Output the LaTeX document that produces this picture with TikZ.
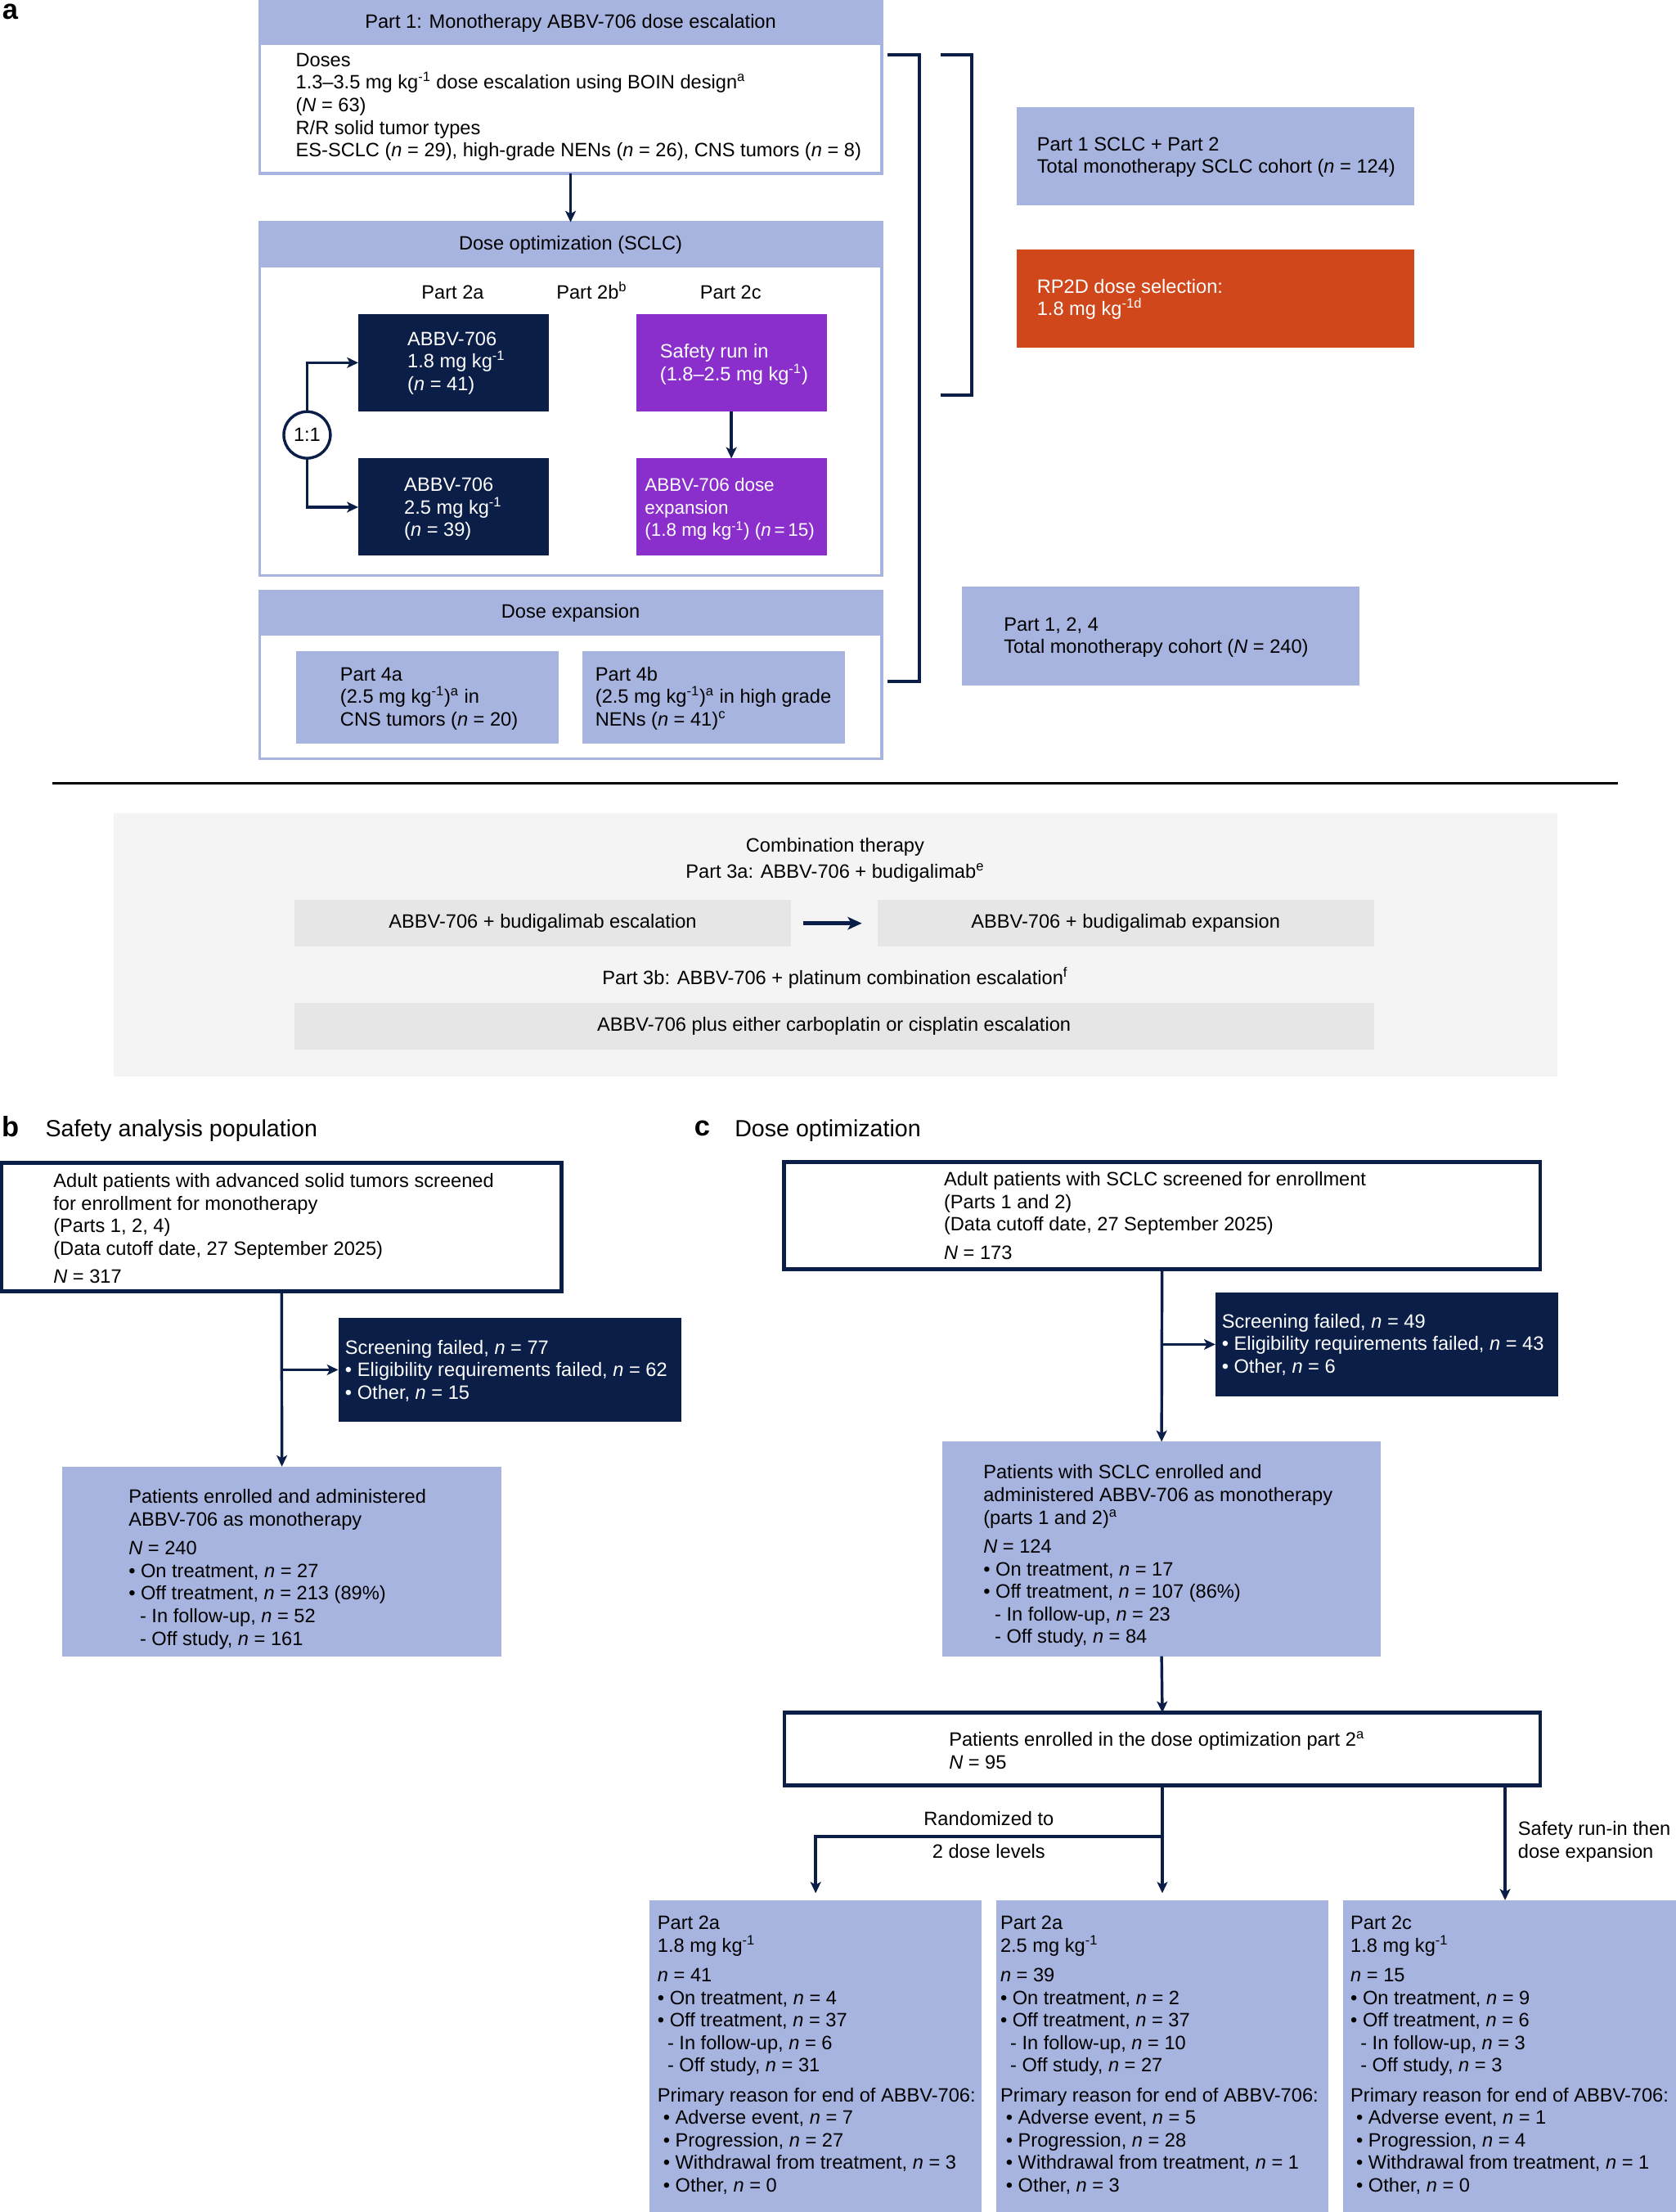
\documentclass[tikz,border=0pt]{standalone}
\usepackage{fontspec}
\setmainfont{Liberation Sans}
\usetikzlibrary{arrows.meta}
\definecolor{lb}{RGB}{166,180,223}
\definecolor{navy}{RGB}{10,30,72}
\definecolor{purp}{RGB}{138,46,204}
\definecolor{orng}{RGB}{207,71,27}
\definecolor{bgg}{RGB}{244,244,244}
\definecolor{boxg}{RGB}{230,230,230}
\newcommand{\myfs}{\fontsize{13.7}{16}\selectfont}
\newcommand{\mytp}{\rule{0pt}{13pt}}
\newcommand{\kgi}{kg\textsuperscript{-1}}
\newcommand{\vn}{\textit{n}}
\newcommand{\vN}{\textit{N}}
\newcommand{\myind}{\hspace*{8pt}}
\newcommand{\mydi}{\hspace*{7pt}}
\newcommand{\mybi}{\hspace*{4pt}}
\begin{document}
\begin{tikzpicture}[x=1pt, y=-1pt,
 txt/.style={inner sep=0pt, font=\myfs, align=left, anchor=north west},
 wtxt/.style={txt, text=white},
 ctxt/.style={txt, align=center, anchor=north},
 bx/.style={rectangle, inner sep=0pt, outer sep=0pt, anchor=north west},
 hdr/.style={bx, fill=lb, font=\myfs},
 conn/.style={draw=navy, line width=2pt},
 arr/.style={conn, -{Stealth[length=8pt,width=7.5pt,inset=2pt]}},
 lbl/.style={inner sep=0pt, anchor=base west, font=\fontsize{20}{20}\selectfont\bfseries},
 ttl/.style={inner sep=0pt, anchor=base west, font=\fontsize{16.6}{18}\selectfont}]
\path[use as bounding box] (0,0) rectangle (1188,1568);

% ---------------- panel a ----------------
\node[lbl] (la) at (1.5,13.8) {a};

\node[bx, draw=lb, line width=2pt, fill=white, minimum width=441pt, minimum height=122pt] (p1) at (184,1) {};
\node[hdr, minimum width=441pt, minimum height=31pt] (p1h) at (184,1) {Part 1: Monotherapy ABBV-706 dose escalation};
\node[txt] (p1t) at (209.5,34) {\mytp Doses\\1.3–3.5 mg \kgi{} dose escalation using BOIN design\textsuperscript{a}\\(\vN{} = 63)\\R/R solid tumor types\\ES-SCLC (\vn{} = 29), high-grade NENs (\vn{} = 26), CNS tumors (\vn{} = 8)};

\node[bx, draw=lb, line width=2pt, fill=white, minimum width=441pt, minimum height=250.5pt] (p2) at (184,157.5) {};
\node[hdr, minimum width=441pt, minimum height=32pt] (p2h) at (184,157.5) {Dose optimization (SCLC)};
\draw[arr] (p1.south) -- (p2h.north);

\node[ctxt] (l2a) at (321,199) {\mytp Part 2a};
\node[ctxt] (l2b) at (419.5,199) {\mytp Part 2b\textsuperscript{b}};
\node[ctxt] (l2c) at (518,199) {\mytp Part 2c};

\node[bx, fill=navy, minimum width=135pt, minimum height=69pt] (n1) at (254,222.6) {};
\node[wtxt] (n1t) at (288.7,231.7) {\mytp ABBV-706\\1.8 mg \kgi\\(\vn{} = 41)};
\node[bx, fill=navy, minimum width=135pt, minimum height=69pt] (n2) at (254,325) {};
\node[wtxt] (n2t) at (286.4,335.1) {\mytp ABBV-706\\2.5 mg \kgi\\(\vn{} = 39)};
\node[bx, fill=purp, minimum width=135pt, minimum height=69pt] (pu1) at (451,222.6) {};
\node[wtxt] (pu1t) at (467.7,240.5) {\mytp Safety run in\\(1.8–2.5 mg \kgi)};
\node[bx, fill=purp, minimum width=135pt, minimum height=69pt] (pu2) at (451,325) {};
\node[wtxt, font=\fontsize{13}{16}\selectfont] (pu2t) at (457,335.1) {\mytp ABBV-706 dose\\expansion\\(1.8 mg \kgi) (\vn{}\,=\,15)};
\draw[arr] (pu1.south) -- (pu2.north);

\node[circle, draw=navy, line width=2pt, fill=white, minimum size=33pt, inner sep=0pt, outer sep=0pt, font=\myfs] (c11) at (217.7,308.3) {1:1};
\draw[arr] (c11.north) |- (n1.west);
\draw[arr] (c11.south) |- (n2.west);

\node[bx, draw=lb, line width=2pt, fill=white, minimum width=441pt, minimum height=118.7pt] (p4) at (184,419) {};
\node[hdr, minimum width=441pt, minimum height=31.6pt] (p4h) at (184,419) {Dose expansion};
\node[bx, fill=lb, minimum width=186pt, minimum height=65.7pt] (q1) at (210,461.3) {};
\node[txt] (q1t) at (241,469.3) {\mytp Part 4a\\(2.5 mg \kgi)\textsuperscript{a} in\\CNS tumors (\vn{} = 20)};
\node[bx, fill=lb, minimum width=186pt, minimum height=65.7pt] (q2) at (413,461.3) {};
\node[txt] (q2t) at (421.9,469.3) {\mytp Part 4b\\(2.5 mg \kgi)\textsuperscript{a} in high grade\\NENs (\vn{} = 41)\textsuperscript{c}};

% brackets
\draw[navy, line width=2.2pt] (629,39) -- (652,39) -- (652,483) -- (629,483);
\draw[navy, line width=2.2pt] (667,39) -- (689,39) -- (689,280) -- (667,280);

\node[bx, fill=lb, minimum width=281.8pt, minimum height=69.6pt] (r1) at (720.7,76) {};
\node[txt] (r1t) at (735,93.5) {\mytp Part 1 SCLC + Part 2\\Total monotherapy SCLC cohort (\vn{} = 124)};
\node[bx, fill=orng, minimum width=281.8pt, minimum height=69.7pt] (r2) at (720.7,176.7) {};
\node[wtxt] (r2t) at (735,194.5) {\mytp RP2D dose selection:\\1.8 mg kg\textsuperscript{-1d}};
\node[bx, fill=lb, minimum width=281.7pt, minimum height=70pt] (r3) at (682,416) {};
\node[txt] (r3t) at (711.5,433.9) {\mytp Part 1, 2, 4\\Total monotherapy cohort (\vN{} = 240)};

% separator
\draw[black, line width=1.8pt] (37,555) -- (1147,555);

% combination therapy
\node[bx, fill=bgg, minimum width=1023.4pt, minimum height=187.1pt] (cbg) at (80.6,576.3) {};
\node[ctxt] (ct1) at (592,590.5) {\mytp Combination therapy};
\node[ctxt] (ct2) at (592,609.5) {\mytp Part 3a: ABBV-706 + budigalimab\textsuperscript{e}};
\node[bx, fill=boxg, minimum width=352.5pt, minimum height=33pt, font=\myfs] (c1) at (208.5,638) {ABBV-706 + budigalimab escalation};
\node[bx, fill=boxg, minimum width=352pt, minimum height=33pt, font=\myfs] (c2) at (622,638) {ABBV-706 + budigalimab expansion};
\draw[draw=navy, line width=2.6pt, -{Stealth[length=10pt,width=9pt,inset=2.5pt]}, shorten <=8.4pt, shorten >=11pt] (c1.east) -- (c2.west);
\node[ctxt] (ct3) at (592,684.5) {\mytp Part 3b: ABBV-706 + platinum combination escalation\textsuperscript{f}};
\node[bx, fill=boxg, minimum width=765.5pt, minimum height=32.7pt, font=\myfs] (c3) at (208.5,711) {ABBV-706 plus either carboplatin or cisplatin escalation};

% ---------------- panel b ----------------
\node[lbl] (lbB) at (1,806) {b};
\node[ttl] (tb) at (32,806) {Safety analysis population};
\node[bx, draw=navy, line width=2.6pt, fill=white, minimum width=396.7pt, minimum height=91pt] (bb1) at (1.3,824.3) {};
\node[txt] (bb1t) at (37.7,828.5) {\mytp Adult patients with advanced solid tumors screened\\for enrollment for monotherapy\\(Parts 1, 2, 4)\\(Data cutoff date, 27 September 2025)\\[4pt]\vN{} = 317};
\node[bx, fill=navy, minimum width=243.2pt, minimum height=74pt] (bs) at (239.8,934) {};
\node[wtxt] (bst) at (244.5,946.5) {\mytp Screening failed, \vn{} = 77\\• Eligibility requirements failed, \vn{} = 62\\• Other, \vn{} = 15};
\node[bx, fill=lb, minimum width=311.7pt, minimum height=134.4pt] (bb2) at (44,1039.6) {};
\node[txt] (bb2t) at (91,1052.5) {\mytp Patients enrolled and administered\\ABBV-706 as monotherapy\\[4.5pt]\vN{} = 240\\• On treatment, \vn{} = 27\\• Off treatment, \vn{} = 213 (89\%)\\\myind- In follow-up, \vn{} = 52\\\myind- Off study, \vn{} = 161};
\draw[arr] (bb1.south) -- (bb2.north);
\draw[arr] (bb1.south |- bs.west) -- (bs.west);

% ---------------- panel c ----------------
\node[lbl] (lcC) at (492,805) {c};
\node[ttl] (tc) at (520.7,806) {Dose optimization};
\node[bx, draw=navy, line width=2.6pt, fill=white, minimum width=536pt, minimum height=76pt] (cc1) at (555.8,823.8) {};
\node[txt] (cc1t) at (669,827.5) {\mytp Adult patients with SCLC screened for enrollment\\(Parts 1 and 2)\\(Data cutoff date, 27 September 2025)\\[4pt]\vN{} = 173};
\node[bx, fill=navy, minimum width=243pt, minimum height=74pt] (cs) at (861.6,916) {};
\node[wtxt] (cst) at (866,928.1) {\mytp Screening failed, \vn{} = 49\\• Eligibility requirements failed, \vn{} = 43\\• Other, \vn{} = 6};
\node[bx, fill=lb, minimum width=311pt, minimum height=152pt] (cc2) at (668,1022) {};
\node[txt] (cc2t) at (697,1035.2) {\mytp Patients with SCLC enrolled and\\administered ABBV-706 as monotherapy\\(parts 1 and 2)\textsuperscript{a}\\[4.5pt]\vN{} = 124\\• On treatment, \vn{} = 17\\• Off treatment, \vn{} = 107 (86\%)\\\myind- In follow-up, \vn{} = 23\\\myind- Off study, \vn{} = 84};
\node[bx, draw=navy, line width=2.6pt, fill=white, minimum width=536pt, minimum height=51.5pt] (cc3) at (556,1214) {};
\node[txt] (cc3t) at (672.6,1224.5) {\mytp Patients enrolled in the dose optimization part 2\textsuperscript{a}\\\vN{} = 95};
\draw[arr] (cc1.south) -- (cc2.north);
\draw[arr] (cc1.south |- cs.west) -- (cs.west);
\draw[arr] (cc2.south) -- (cc3.north);

\node[bx, fill=lb, minimum width=235.5pt, minimum height=222pt] (d1) at (460.5,1347) {};
\node[bx, fill=lb, minimum width=236pt, minimum height=222pt] (d2) at (706,1347) {};
\node[bx, fill=lb, minimum width=236pt, minimum height=222pt] (d3) at (952,1347) {};

\node[txt] (d1t) at (466,1354.5) {\mytp Part 2a\\1.8 mg \kgi\\[5pt]\vn{} = 41\\• On treatment, \vn{} = 4\\• Off treatment, \vn{} = 37\\\mydi- In follow-up, \vn{} = 6\\\mydi- Off study, \vn{} = 31\\[5pt]Primary reason for end of ABBV-706:\\\mybi• Adverse event, \vn{} = 7\\\mybi• Progression, \vn{} = 27\\\mybi• Withdrawal from treatment, \vn{} = 3\\\mybi• Other, \vn{} = 0};
\node[txt] (d2t) at (709,1354.5) {\mytp Part 2a\\2.5 mg \kgi\\[5pt]\vn{} = 39\\• On treatment, \vn{} = 2\\• Off treatment, \vn{} = 37\\\mydi- In follow-up, \vn{} = 10\\\mydi- Off study, \vn{} = 27\\[5pt]Primary reason for end of ABBV-706:\\\mybi• Adverse event, \vn{} = 5\\\mybi• Progression, \vn{} = 28\\\mybi• Withdrawal from treatment, \vn{} = 1\\\mybi• Other, \vn{} = 3};
\node[txt] (d3t) at (957.3,1354.5) {\mytp Part 2c\\1.8 mg \kgi\\[5pt]\vn{} = 15\\• On treatment, \vn{} = 9\\• Off treatment, \vn{} = 6\\\mydi- In follow-up, \vn{} = 3\\\mydi- Off study, \vn{} = 3\\[5pt]Primary reason for end of ABBV-706:\\\mybi• Adverse event, \vn{} = 1\\\mybi• Progression, \vn{} = 4\\\mybi• Withdrawal from treatment, \vn{} = 1\\\mybi• Other, \vn{} = 0};

\coordinate (rj) at (824,1301.7);
\coordinate (d3in) at (1067,1347);
\draw[arr, shorten >=5pt] (cc3.south) -- (d2.north);
\draw[arr, shorten >=5pt] (rj) -| (d1.north);
\draw[arr] (cc3.south -| d3in) -- (d3in);

\node[ctxt] (rz1) at (701,1281) {\mytp Randomized to};
\node[ctxt] (rz2) at (701,1304) {\mytp 2 dose levels};
\node[txt] (sr) at (1076,1288) {\mytp Safety run-in then\\dose expansion};
\end{tikzpicture}
\end{document}
